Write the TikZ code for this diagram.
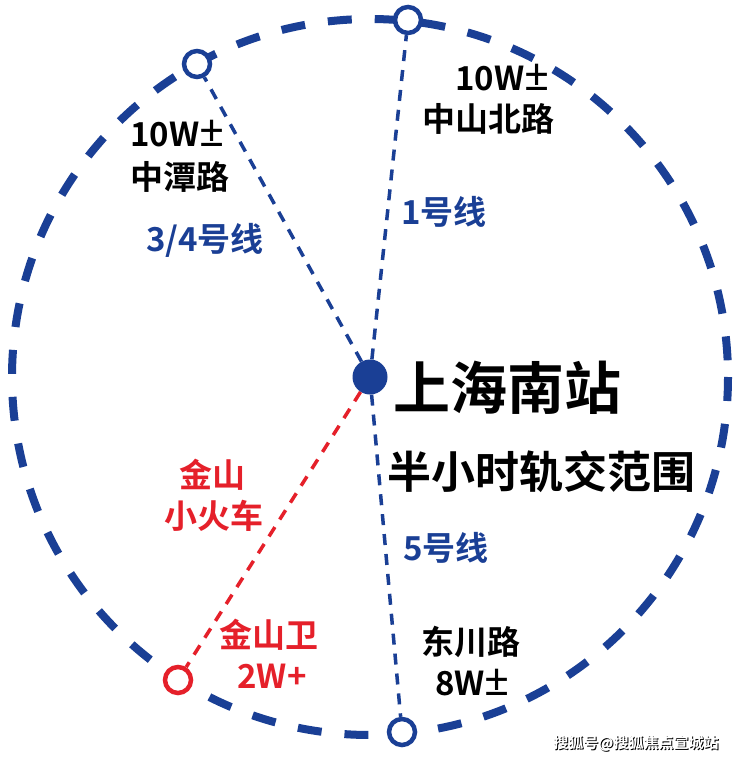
\documentclass[tikz,border=0pt]{standalone}
\usepackage{fontspec}
\newfontfamily\cjkb{Noto Sans CJK SC Bold}
\newfontfamily\latb{Noto Sans}
\newcommand{\pmsign}{{\latb\bfseries\fontsize{44}{44}\selectfont\smash{±}}}
\definecolor{dblue}{HTML}{1A3F95}
\definecolor{dred}{HTML}{E5202A}
\tikzset{
  ring/.style={draw=dblue, line width=8pt, dash pattern=on 24pt off 23pt},
  station/.style={circle, draw=#1, fill=white, line width=4.5pt, minimum size=26pt, inner sep=0pt},
  hubdot/.style={circle, fill=dblue, minimum size=35pt, inner sep=0pt},
  spoke/.style={draw=#1, line width=3.5pt, dash pattern=on 11pt off 9pt},
  lbl/.style={font=\cjkb\fontsize{33}{36}\selectfont, inner sep=0pt, text=#1},
  big/.style={font=\cjkb\fontsize{57}{60}\selectfont, inner sep=0pt},
  mid/.style={font=\cjkb\fontsize{44}{48}\selectfont, inner sep=0pt},
  wm/.style={font=\cjkb\fontsize{15}{17}\selectfont, inner sep=0pt, text=#1}
}
\begin{document}
\begin{tikzpicture}[x=1pt,y=-1pt]
\useasboundingbox (0,0) rectangle (740,759);
\fill[white] (0,0) rectangle (740,759);
\coordinate (c) at (370,377);
\draw[ring] (c) circle[radius=358];
\node[station=dblue] (n1) at (408,20) {};
\node[station=dblue] (n2) at (197,64) {};
\node[station=dblue] (n3) at (402,732) {};
\node[station=dred] (n4) at (178,680) {};
\node[hubdot] (hub) at (c) {};
\draw[spoke=dblue] (hub) -- (n1);
\draw[spoke=dblue] (hub) -- (n2);
\draw[spoke=dblue] (hub) -- (n3);
\draw[spoke=dred] (hub) -- (n4);
% labels
\node[lbl=black, anchor=base west] (t1a) at (455,91) {10W\pmsign};
\node[lbl=black] (t1b) at (488,119) {中山北路};
\node[lbl=black, anchor=base west] (t2a) at (130,147) {10W\pmsign};
\node[lbl=black] (t2b) at (180,177) {中潭路};
\node[lbl=dblue] (l34) at (205,240) {3/4号线};
\node[lbl=dblue] (l1) at (444,212) {1号线};
\node[big] (title) at (507,388) {上海南站};
\node[mid] (sub) at (541,472) {半小时轨交范围};
\node[lbl=dblue] (l5) at (446,548) {5号线};
\node[lbl=black] (t3a) at (471,642) {东川路};
\node[lbl=black, anchor=base west] (t3b) at (435,695) {8W\pmsign};
\node[lbl=dred] (r1a) at (212,475) {金山};
\node[lbl=dred] (r1b) at (214,516) {小火车};
\node[lbl=dred] (r2a) at (269,635) {金山卫};
\node[lbl=dred] (r2b) at (272,676) {2W+};
\node[wm=black] (wms) at (637,744) {搜狐号@搜狐焦点宣城站};
\node[wm=white] (wmt) at (636,743) {搜狐号@搜狐焦点宣城站};
\end{tikzpicture}
\end{document}
